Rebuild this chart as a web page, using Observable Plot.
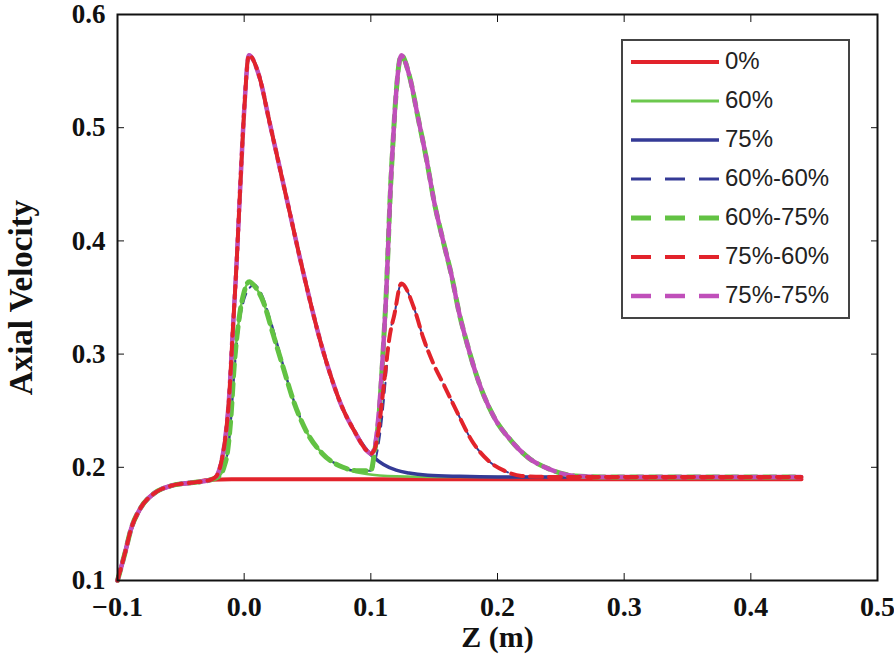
<!DOCTYPE html>
<html>
<head>
<meta charset="utf-8">
<script src="https://cdn.jsdelivr.net/npm/d3@7"></script>
<script src="https://cdn.jsdelivr.net/npm/@observablehq/plot@0.6"></script>
<style>
  html, body { margin: 0; padding: 0; background: #fff; }
  #wrap { position: relative; width: 894px; height: 667px; overflow: hidden; }
  #wrap svg.plot { position: absolute; left: 0; top: 0; }
  #legend { position: absolute; left: 621px; top: 39px; width: 225px; height: 276px;
            border: 2px solid #444; background: #fff; box-sizing: content-box; }
  .lrow { position: absolute; left: 0; height: 30px; display: flex; align-items: center; }
  .lrow span { font-family: "Liberation Sans", Arial, sans-serif; font-size: 24px; color: #222; margin-left: 4px; }
</style>
</head>
<body>
<div id="wrap"></div>
<script>
// ---- data ----
const seriesNames  = ["0%", "60%", "75%", "60%-60%", "60%-75%", "75%-60%", "75%-75%"];
const seriesColors = ["#e2232b", "#6cc84e", "#343a96", "#343a96", "#62c243", "#e2232b", "#c04fba"];
const seriesWidths = [4, 2.5, 3.5, 2, 5, 4, 4.5];
const seriesDash   = [null, null, null, "10,7", "12,7", "12,7", "12,7"];
const seriesDashOffset = [0, 0, 0, 0, 0, 0, 9];
// drawing order (later = on top), as indices into the series above
const drawOrder = [0, 1, 2, 3, 4, 6, 5];

const xTicks = [-0.1, 0.0, 0.1, 0.2, 0.3, 0.4, 0.5];
const yTicks = [0.1, 0.2, 0.3, 0.4, 0.5, 0.6];

// shared inlet segment (Z, axial velocity)
const entry = [[-0.1,0.1],[-0.0937,0.126],[-0.0897,0.144],[-0.0818,0.164],[-0.0715,0.1766],
               [-0.058,0.1836],[-0.0422,0.1863],[-0.0264,0.189]];

const pts0 = [[-0.01,0.1895],[0.05,0.1895],[0.1,0.1895],[0.2,0.1895],[0.3,0.1895],[0.44,0.1895]];

const pts60 = [[-0.02,0.192],[-0.016,0.2],[-0.013,0.215],[-0.0105,0.2435],[-0.008,0.2875],
  [-0.004,0.3315],[0.0,0.355],[0.004,0.364],[0.009,0.359],[0.015,0.3465],[0.023,0.317],
  [0.031,0.2875],[0.039,0.2585],[0.049,0.232],[0.062,0.2118],[0.078,0.1995],[0.0965,0.194],
  [0.12,0.192],[0.15,0.1915],[0.44,0.1915]];

const pts75 = [[-0.022,0.192],[-0.018,0.205],[-0.015,0.225],[-0.012,0.26],[-0.009,0.32],
  [-0.006,0.38],[-0.003,0.45],[0.0,0.515],[0.0037,0.564],[0.012,0.545],[0.02,0.505],
  [0.028,0.465],[0.036,0.425],[0.044,0.385],[0.052,0.347],[0.06,0.312],[0.068,0.282],
  [0.077,0.254],[0.087,0.232],[0.097,0.215],[0.11,0.2025],[0.12,0.1975],[0.13,0.195],
  [0.145,0.193],[0.17,0.192],[0.2,0.1915],[0.44,0.1915]];

const pts6060 = [[-0.02,0.192],[-0.016,0.2],[-0.013,0.213],[-0.0105,0.24],[-0.008,0.28],
  [-0.004,0.325],[0.0,0.348],[0.004,0.358],[0.008,0.3614],[0.013,0.355],[0.02,0.333],
  [0.028,0.302],[0.036,0.27],[0.046,0.24],[0.06,0.215],[0.078,0.2],[0.09,0.197],[0.1,0.197],
  [0.104,0.208],[0.108,0.235],[0.112,0.28],[0.1146,0.314],[0.1186,0.335],[0.124,0.3623],
  [0.1343,0.34],[0.1415,0.314],[0.15,0.29],[0.158,0.272],[0.168,0.249],[0.18,0.223],
  [0.193,0.2056],[0.2056,0.1968],[0.219,0.1924],[0.24,0.1915],[0.44,0.1915]];

const pts6075 = [[-0.02,0.192],[-0.016,0.2],[-0.013,0.215],[-0.0105,0.2435],[-0.008,0.2875],
  [-0.004,0.3315],[0.0,0.355],[0.004,0.364],[0.009,0.359],[0.015,0.3465],[0.023,0.317],
  [0.031,0.2875],[0.039,0.2585],[0.049,0.232],[0.062,0.2118],[0.078,0.2],[0.09,0.197],
  [0.1,0.197],[0.103,0.214],[0.106,0.24],[0.1104,0.317],[0.1122,0.355],[0.1138,0.399],
  [0.1154,0.443],[0.1175,0.487],[0.12,0.531],[0.124,0.564],[0.1304,0.546],[0.1375,0.5076],
  [0.1439,0.4724],[0.15,0.4345],[0.1573,0.399],[0.1636,0.37],[0.17,0.335],[0.1755,0.3113],
  [0.185,0.276],[0.1977,0.2435],[0.211,0.2232],[0.2246,0.2083],[0.2405,0.1986],
  [0.261,0.1924],[0.2824,0.1915],[0.44,0.1915]];

const pts7560 = [[-0.022,0.192],[-0.018,0.205],[-0.015,0.225],[-0.012,0.26],[-0.009,0.32],
  [-0.006,0.38],[-0.003,0.45],[0.0,0.515],[0.0037,0.564],[0.012,0.545],[0.02,0.505],
  [0.028,0.465],[0.036,0.425],[0.044,0.385],[0.052,0.347],[0.06,0.312],[0.068,0.282],
  [0.077,0.254],[0.087,0.232],[0.0965,0.215],[0.1,0.212],[0.103,0.216],[0.106,0.232],
  [0.109,0.26],[0.112,0.29],[0.1146,0.314],[0.1186,0.335],[0.124,0.3623],[0.1343,0.34],
  [0.1415,0.314],[0.15,0.29],[0.158,0.272],[0.168,0.249],[0.18,0.223],[0.193,0.2056],
  [0.2056,0.1968],[0.219,0.1924],[0.24,0.1915],[0.44,0.1915]];

const pts7575 = [[-0.022,0.192],[-0.018,0.205],[-0.015,0.225],[-0.012,0.26],[-0.009,0.32],
  [-0.006,0.38],[-0.003,0.45],[0.0,0.515],[0.0037,0.564],[0.012,0.545],[0.02,0.505],
  [0.028,0.465],[0.036,0.425],[0.044,0.385],[0.052,0.347],[0.06,0.312],[0.068,0.282],
  [0.077,0.254],[0.087,0.232],[0.0965,0.215],[0.1,0.212],[0.103,0.218],[0.106,0.245],
  [0.1104,0.317],[0.1122,0.355],[0.1138,0.399],[0.1154,0.443],[0.1175,0.487],[0.12,0.531],
  [0.124,0.564],[0.1304,0.546],[0.1375,0.5076],[0.1439,0.4724],[0.15,0.4345],[0.1573,0.399],
  [0.1636,0.37],[0.17,0.335],[0.1755,0.3113],[0.185,0.276],[0.1977,0.2435],[0.211,0.2232],
  [0.2246,0.2083],[0.2405,0.1986],[0.261,0.1924],[0.2824,0.1915],[0.44,0.1915]];

const seriesPoints = [pts0, pts60, pts75, pts6060, pts6075, pts7560, pts7575];

// ---- chart ----
const lineMarks = drawOrder.map(i =>
  Plot.line(entry.concat(seriesPoints[i]), {
    x: d => d[0], y: d => d[1],
    stroke: seriesColors[i], strokeWidth: seriesWidths[i],
    strokeDasharray: seriesDash[i], strokeDashoffset: seriesDashOffset[i],
    curve: "monotone-x", strokeLinejoin: "round"
  })
);

const tickFont = {fontFamily: "'Liberation Serif', 'Times New Roman', serif", fontWeight: "bold", fontSize: 28};

const chart = Plot.plot({
  width: 894, height: 667,
  marginLeft: 117, marginRight: 17, marginTop: 14, marginBottom: 87,
  style: {background: "#fff", color: "#111", overflow: "visible"},
  x: {domain: [-0.1, 0.5]},
  y: {domain: [0.1, 0.6]},
  marks: [
    ...lineMarks,
    Plot.frame({stroke: "#111", strokeWidth: 2}),
    Plot.axisX(xTicks, {anchor: "bottom", tickSize: -7, tickPadding: 23, tickFormat: d3.format(".1f"),
      label: null, ...tickFont, stroke: "#111"}),
    Plot.axisX(xTicks, {anchor: "top", tickSize: -7, tickFormat: () => "", label: null, stroke: "#111"}),
    Plot.axisY(yTicks, {anchor: "left", tickSize: -7, tickPadding: 19, tickFormat: d3.format(".1f"),
      label: null, ...tickFont, fontSize: 27, stroke: "#111"}),
    Plot.axisY(yTicks, {anchor: "right", tickSize: -7, tickFormat: () => "", label: null, stroke: "#111"}),
    Plot.text(["Z (m)"], {frameAnchor: "bottom", dy: 66, text: d => d, ...tickFont, fontSize: 30, fill: "#111"}),
    Plot.text(["Axial Velocity"], {frameAnchor: "left", dx: -96, rotate: -90, textAnchor: "middle",
      text: d => d, ...tickFont, fontSize: 33, fill: "#111"})
  ]
});
chart.classList.add("plot");
const wrap = document.getElementById("wrap");
wrap.appendChild(chart);

// ---- legend ----
const legend = document.createElement("div");
legend.id = "legend";
const rowTops = [5, 44, 83, 122, 161, 200, 239];
seriesNames.forEach((name, i) => {
  const row = document.createElement("div");
  row.className = "lrow";
  row.style.top = rowTops[i] + "px";
  const svgNS = "http://www.w3.org/2000/svg";
  const s = document.createElementNS(svgNS, "svg");
  s.setAttribute("width", 98); s.setAttribute("height", 30);
  const ln = document.createElementNS(svgNS, "line");
  ln.setAttribute("x1", 8); ln.setAttribute("x2", 96);
  ln.setAttribute("y1", 16); ln.setAttribute("y2", 16);
  ln.setAttribute("stroke", seriesColors[i]);
  ln.setAttribute("stroke-width", Math.max(seriesWidths[i], 3));
  if (seriesDash[i]) ln.setAttribute("stroke-dasharray", "20,14");
  s.appendChild(ln);
  row.appendChild(s);
  const t = document.createElement("span");
  t.textContent = name;
  row.appendChild(t);
  legend.appendChild(row);
});
wrap.appendChild(legend);
</script>
</body>
</html>
